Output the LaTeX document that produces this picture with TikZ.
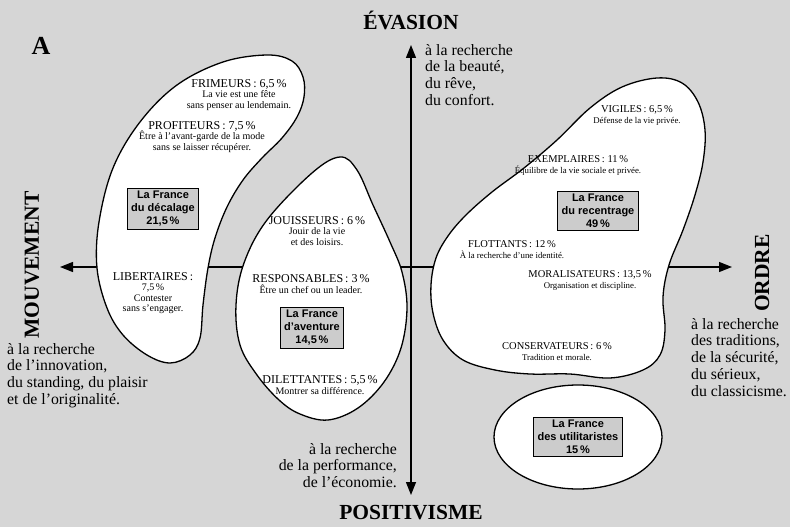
\documentclass[tikz,border=0pt]{standalone}
\usepackage{fontspec}
\setmainfont{Liberation Serif}
\newfontfamily\boxfont{Liberation Sans}
\usetikzlibrary{arrows.meta}
\definecolor{paper}{RGB}{214,214,214}
\definecolor{boxgray}{RGB}{204,204,204}
\newcommand{\tribehead}[1]{{\fontsize{12}{12}\selectfont #1}}
\newcommand{\tribeheadsm}[1]{{\fontsize{10.5}{11}\selectfont #1}}

\begin{document}
\begin{tikzpicture}[x=1pt,y=-1pt,>={Triangle[length=13pt,width=10pt]},
  axis/.style={<->, line width=1.4pt},
  blob/.style={draw=black, line width=1.3pt, fill=white},
  pole/.style={inner sep=0pt, font=\fontsize{21.5}{24}\selectfont\bfseries},
  goal/.style={inner sep=0pt, align=left, font=\fontsize{15.8}{16.8}\selectfont},
  france/.style={draw=black, line width=0.8pt, fill=boxgray, align=center, inner xsep=4pt, inner ysep=3pt, font=\boxfont\bfseries\fontsize{11}{13}\selectfont},
  tribe/.style={inner sep=0pt, align=center, font=\fontsize{10}{10.5}\selectfont},
  tribesm/.style={inner sep=0pt, align=center, font=\fontsize{8.8}{11}\selectfont}]
\fill[paper] (0,0) rectangle (790,527);
\useasboundingbox (0,0) rectangle (790,527);

% axes
\coordinate (north) at (411,45);
\coordinate (south) at (411,495);
\coordinate (west) at (60,267);
\coordinate (east) at (732,267);
\draw[axis] (south) -- (north);
\draw[axis] (west) -- (east);

% the four Frances
\draw[blob] plot[smooth cycle, tension=0.6] coordinates {(267,55) (292,61) (303,77) (304,97) (297,117) (282,138) (262,158) (243,180) (227,207) (215,238) (208,268) (203,305) (200,338) (190,355) (170,363) (147,355) (123,335) (107,308) (97,268) (99,222) (113,168) (140,122) (177,85) (223,62)};
\draw[blob] plot[smooth cycle, tension=0.6] coordinates {(340,157) (357,170) (373,205) (390,242) (402,272) (407,308) (401,348) (384,382) (358,408) (328,420) (300,414) (279,400) (257,375) (240,345) (236,305) (244,263) (267,220) (312,173)};
\draw[blob] plot[smooth cycle, tension=0.6] coordinates {(657,78) (682,83) (698,102) (705,130) (703,162) (695,195) (683,230) (669,265) (663,297) (665,330) (660,355) (643,370) (610,378) (570,374) (530,374) (495,370) (463,360) (443,340) (433,313) (431,285) (436,258) (448,236) (466,215) (492,192) (524,168) (557,140) (590,108) (622,87)};
\draw[blob] (578,437) ellipse [x radius=84, y radius=52];

\node[france] (decalage) at (163,209) {La France\\du décalage\\21,5\,\%};
\node[france] (aventure) at (312,328) {La France\\d’aventure\\14,5\,\%};
\node[france] (recentrage) at (598,211) {La France\\du recentrage\\49\,\%};
\node[france] (utilitaristes) at (578,437) {La France\\des utilitaristes\\15\,\%};

% socio-styles
\node[tribe] (frimeurs) at (239,95) {\tribehead{FRIMEURS\,: 6,5\,\%}\\La vie est une fête\\sans penser au lendemain.};
\node[tribe] (profiteurs) at (202,137) {\tribehead{PROFITEURS\,: 7,5\,\%}\\Être à l’avant-garde de la mode\\sans se laisser récupérer.};
\node[tribe] (libertaires) at (153,293) {\tribehead{LIBERTAIRES\,:}\\7,5\,\%\\Contester\\sans s’engager.};
\node[tribe] (jouisseurs) at (317,231) {\tribehead{JOUISSEURS\,: 6\,\%}\\Jouir de la vie\\et des loisirs.};
\node[tribe] (responsables) at (311,284) {\tribehead{RESPONSABLES\,: 3\,\%}\\Être un chef ou un leader.};
\node[tribe] (dilettantes) at (320,385) {\tribehead{DILETTANTES\,: 5,5\,\%}\\Montrer sa différence.};
\node[tribesm] (vigiles) at (637,115) {\tribeheadsm{VIGILES\,: 6,5\,\%}\\Défense de la vie privée.};
\node[tribesm] (exemplaires) at (578,165) {\tribeheadsm{EXEMPLAIRES\,: 11\,\%}\\Équilibre de la vie sociale et privée.};
\node[tribesm] (flottants) at (512,250) {\tribeheadsm{FLOTTANTS\,: 12\,\%}\\À la recherche d’une identité.};
\node[tribesm] (moralisateurs) at (590,280) {\tribeheadsm{MORALISATEURS\,: 13,5\,\%}\\Organisation et discipline.};
\node[tribesm] (conservateurs) at (557,352) {\tribeheadsm{CONSERVATEURS\,: 6\,\%}\\Tradition et morale.};

% poles and what they look for
\node[pole, font=\fontsize{26}{28}\selectfont\bfseries] (panel) at (41,46) {A};
\node[pole] (evasion) at (411,20) {ÉVASION};
\node[pole] (positivisme) at (411,513) {POSITIVISME};
\node[pole, rotate=90] (mouvement) at (32,265) {MOUVEMENT};
\node[pole, rotate=90] (ordre) at (762,273) {ORDRE};
\node[goal, anchor=north west] (reve) at (425,44) {à la recherche\\de la beauté,\\du rêve,\\du confort.};
\node[goal, anchor=north west] (innovation) at (7,343) {à la recherche\\de l’innovation,\\du standing, du plaisir\\et de l’originalité.};
\node[goal, anchor=north west] (traditions) at (691,318) {à la recherche\\des traditions,\\de la sécurité,\\du sérieux,\\du classicisme.};
\node[goal, align=right, anchor=north east] (performance) at (397,443) {à la recherche\\de la performance,\\de l’économie.};
\end{tikzpicture}
\end{document}
